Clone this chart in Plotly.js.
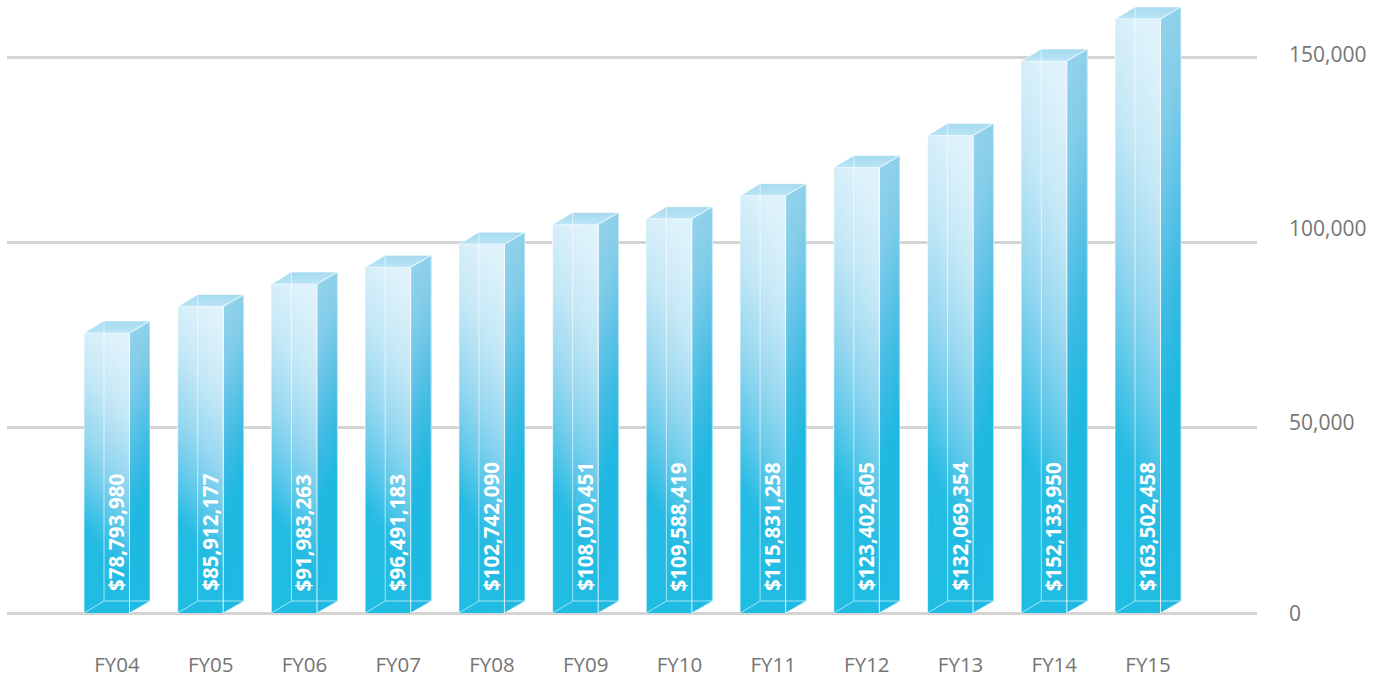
<!DOCTYPE html>
<html>
<head>
<meta charset="utf-8">
<script src="https://cdn.plot.ly/plotly-3.0.1.min.js"></script>
<style>html,body{margin:0;padding:0;background:#fff}#chart{width:1384px;height:677px}</style>
</head>
<body>
<div id="chart"></div>
<script>
const categories = ["FY04","FY05","FY06","FY07","FY08","FY09","FY10","FY11","FY12","FY13","FY14","FY15"];
const dollars = [78793980,85912177,91983263,96491183,102742090,108070451,109588419,115831258,123402605,132069354,152133950,163502458];
const tickValues = [0,50000,100000,150000];
const tickLabels = ["0","50,000","100,000","150,000"];
const tickShifts = [0,6,14,3];

const thousands = dollars.map(d => d / 1000);
const barLabels = dollars.map(d => "$" + d.toLocaleString("en-US"));

const PITCH = 93.73, PX_PER_UNIT = 556 / 150000;
const L = -33 / PITCH, FR = 12.5 / PITCH, BR = 33 / PITCH, DX = 20 / PITCH, DY = 12 / PX_PER_UNIT;
const STRIPS = 12, TILT = 0.08;

const frontStops = [[0,[222,242,251]],[0.22,[197,232,246]],[0.45,[150,215,240]],[0.62,[98,201,234]],[0.78,[36,187,227]],[1,[32,189,227]]];
const sideStops = [[0,[146,209,235]],[0.15,[130,205,233]],[0.3,[100,196,231]],[0.47,[62,187,227]],[0.65,[30,184,225]],[1,[30,186,226]]];
const topStops = [[0,[165,218,240]],[1,[186,228,245]]];

function colorAt(stops, t) {
  t = Math.max(0, Math.min(1, t));
  for (let i = 1; i < stops.length; i++) {
    if (t <= stops[i][0]) {
      const a = stops[i-1], b = stops[i], f = (t - a[0]) / (b[0] - a[0]);
      return "rgb(" + a[1].map((v, k) => Math.round(v + (b[1][k] - v) * f)).join(",") + ")";
    }
  }
  return "rgb(" + stops[stops.length-1][1].join(",") + ")";
}
function scale(stops, shift) {
  const out = [];
  for (let i = 0; i <= 20; i++) out.push([i / 20, colorAt(stops, 1 - i / 20 + shift)]);
  return out;
}
function face(xs, ys, stops, shift) {
  return {
    type: "scatter", mode: "none", x: xs, y: ys, fill: "toself", hoverinfo: "skip", showlegend: false,
    fillgradient: { type: "vertical", colorscale: scale(stops, shift) }
  };
}

const traces = [{
  type: "bar", x: categories.map((c, i) => i), y: thousands.map(v => v - DY),
  width: FR - L, offset: L, marker: { color: "#7fd0ec", line: { width: 0 } },
  hoverinfo: "skip", showlegend: false
}];

thousands.forEach((v, i) => {
  const top = v - DY, x0 = i + L, x1 = i + FR, x2 = i + BR, xb = x0 + DX;
  // side face
  for (let s = 0; s < 5; s++) {
    const a = x1 + (x2 - x1) * s / 5, fa = (a - x1) / (x2 - x1);
    const ya = top + DY * fa, yb = DY * fa;
    traces.push(face([a, x2, x2, a], [ya, v, DY, yb], sideStops, (s - 2) * 0.02));
  }
  // front face: strips painted left to right so no seams show
  for (let s = 0; s < STRIPS; s++) {
    const a = x0 + (x1 - x0) * s / STRIPS;
    traces.push(face([a, x1, x1, a], [0, 0, top, top], frontStops, TILT * (1 - 2 * s / (STRIPS - 1))));
  }
  // top face
  traces.push(face([x0, x1, x2, xb], [top, top, v, v], topStops, 0));
  // faint glass edges
  traces.push({
    type: "scatter", mode: "lines", hoverinfo: "skip", showlegend: false,
    line: { color: "rgba(255,255,255,0.6)", width: 1 },
    x: [xb, xb, null, x0, xb, x2, null, x1, x2, null, x0, x0, null, x0, xb, x2, x2, null, x0, x1],
    y: [DY, v, null, 0, DY, DY, null, 0, DY, null, 0, top, null, top, v, v, DY, null, top, top]
  });
  // bright front edges
  traces.push({
    type: "scatter", mode: "lines", hoverinfo: "skip", showlegend: false,
    line: { color: "rgba(255,255,255,0.85)", width: 1 },
    x: [x1, x1, x2], y: [0, top, v]
  });
});

const annotations = [];
thousands.forEach((v, i) => annotations.push({
  x: i, y: 0, xref: "x", yref: "y", yshift: 20, xshift: -1.5, xanchor: "center", yanchor: "bottom",
  text: "<b>" + barLabels[i] + "</b>", textangle: -90, showarrow: false,
  font: { family: "Open Sans", size: 20.5, color: "#ffffff" }
}));
tickValues.forEach((t, i) => annotations.push({
  x: 1.0236, y: t, xref: "paper", yref: "y", yshift: tickShifts[i], xanchor: "left", yanchor: "middle",
  text: tickLabels[i], showarrow: false, align: "left",
  font: { family: "Open Sans", size: 21, color: "#757575" }
}));

const layout = {
  width: 1384, height: 677, paper_bgcolor: "#fff", plot_bgcolor: "#fff",
  margin: { l: 7, r: 127, t: 0, b: 64, pad: 0 },
  showlegend: false, bargap: 0,
  xaxis: {
    type: "linear", range: [-110 / PITCH, 1140 / PITCH], tickmode: "array",
    tickvals: categories.map((c, i) => i), ticktext: categories,
    showgrid: false, zeroline: false, showline: false, ticks: "", ticklabelstandoff: 37,
    tickfont: { family: "Open Sans", size: 20.5, color: "#757575" }, fixedrange: true
  },
  yaxis: {
    range: [0, 613 / PX_PER_UNIT], tickmode: "array", tickvals: tickValues, showticklabels: false,
    showgrid: true, gridcolor: "#d4d4d4", gridwidth: 3, zeroline: true, zerolinecolor: "#d4d4d4", zerolinewidth: 3,
    showline: false, ticks: "", fixedrange: true
  },
  annotations: annotations
};
Plotly.newPlot("chart", traces, layout, { displayModeBar: false, staticPlot: true });
</script>
</body>
</html>
